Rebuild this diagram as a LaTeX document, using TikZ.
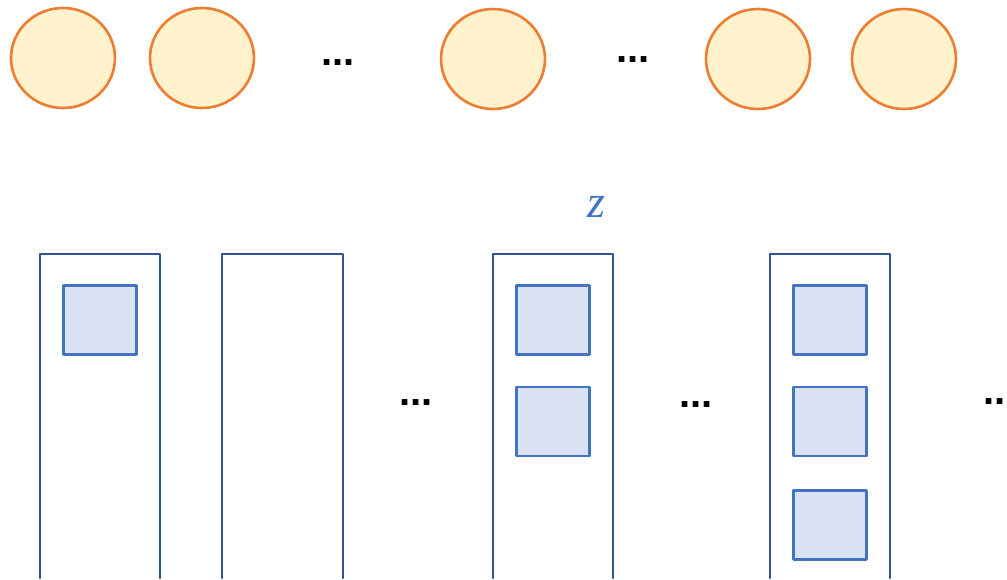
\documentclass[tikz,border=0pt]{standalone}
\usepackage{fontspec}
\setmainfont{Liberation Sans}
\newfontfamily\zpismo{Liberation Serif}

\definecolor{kolofill}{HTML}{FFF2CC}
\definecolor{kolodraw}{HTML}{ED7D31}
\definecolor{sloupec}{HTML}{2F5597}
\definecolor{ctverfill}{HTML}{DAE3F3}
\definecolor{ctverdraw}{HTML}{4472C4}

\tikzset{
    kolo/.style={ellipse, draw=kolodraw, fill=kolofill, line width=2.6pt,
        minimum width=104pt, minimum height=100pt, inner sep=0pt},
    ctverec/.style={rectangle, draw=ctverdraw, fill=ctverfill, line width=2.4pt,
        minimum width=73pt, minimum height=69pt, inner sep=0pt},
    tecky/.style={font=\bfseries\fontsize{40}{40}\selectfont, inner sep=0pt},
}
\usetikzlibrary{shapes.geometric}

\begin{document}
\begin{tikzpicture}[x=1pt,y=-1pt,line join=round,line cap=round]
    \useasboundingbox (0,0) rectangle (1007,580);

    % horní řada kruhů
    \node[kolo] (k1) at (63,58) {};
    \node[kolo] (k2) at (202,58) {};
    \node[tecky] (t1) at (338,63) {...};
    \node[kolo] (k3) at (493,59) {};
    \node[tecky] (t2) at (633,60) {...};
    \node[kolo] (k4) at (758,59) {};
    \node[kolo] (k5) at (904,59) {};

    % popisek nad třetím sloupcem
    \node[text=ctverdraw, font=\zpismo\itshape\fontsize{46}{46}\selectfont] (z) at (596,207) {z};

    % sloupce otevřené dole
    \draw[sloupec, line width=2.6pt] (40,578)--(40,254)--(160,254)--(160,578);
    \draw[sloupec, line width=2.6pt] (222,578)--(222,254)--(343,254)--(343,578);
    \draw[sloupec, line width=2.6pt] (493,578)--(493,254)--(613,254)--(613,578);
    \draw[sloupec, line width=2.6pt] (770,578)--(770,254)--(890,254)--(890,578);

    % 1. sloupec
    \node[ctverec] (a1) at (100,320) {};

    % 3. sloupec
    \node[ctverec] (c1) at (553,320) {};
    \node[ctverec] (c2) at (553,421.5) {};

    % 4. sloupec
    \node[ctverec] (d1) at (830,320) {};
    \node[ctverec] (d2) at (830,421.5) {};
    \node[ctverec] (d3) at (830,525) {};

    % tečky mezi sloupci
    \node[tecky] (t3) at (416,403) {...};
    \node[tecky] (t4) at (696,405) {...};
    \node[tecky] (t5) at (1000,402) {...};
\end{tikzpicture}
\end{document}
